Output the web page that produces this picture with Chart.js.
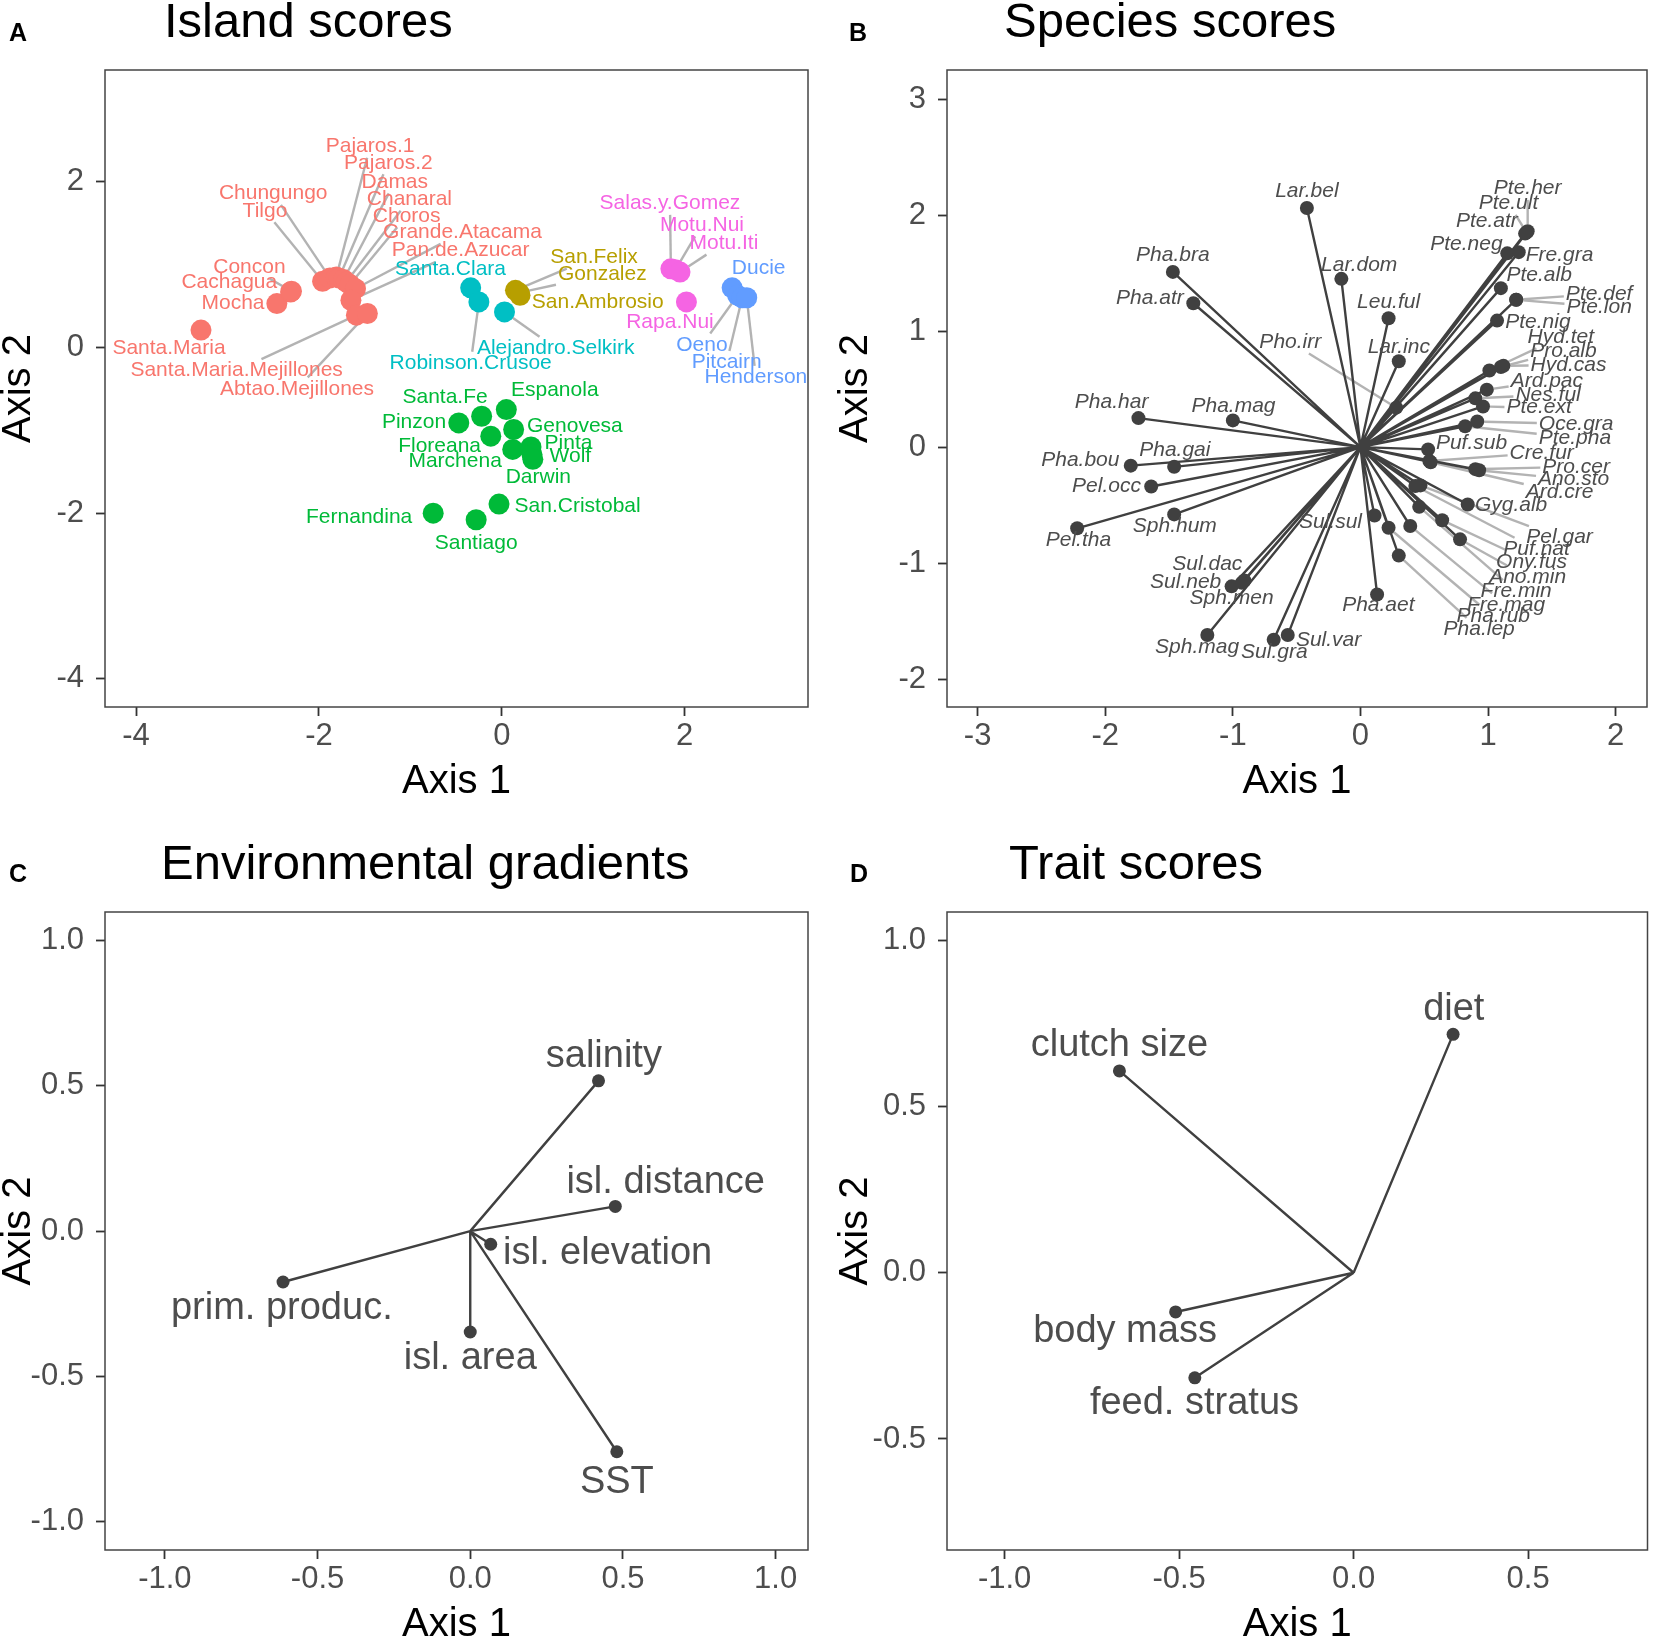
<!DOCTYPE html>
<html>
<head>
<meta charset="utf-8">
<script src="https://cdn.jsdelivr.net/npm/chart.js@4.4.0/dist/chart.umd.min.js"></script>
<style>
body { margin: 0; background: #fff; width: 1654px; height: 1640px; position: relative; overflow: hidden; font-family: "Liberation Sans", Arial, sans-serif; }
.celda { position: absolute; width: 827px; height: 820px; }
.titulo { position: absolute; font-size: 49px; line-height: 49px; color: #000; white-space: nowrap; }
.letra { position: absolute; font-size: 25px; line-height: 25px; font-weight: bold; color: #000; }
</style>
</head>
<body>
<div class="celda" style="left:0;top:0"><canvas id="graficaA" width="827" height="820"></canvas></div>
<div class="celda" style="left:827px;top:0"><canvas id="graficaB" width="827" height="820"></canvas></div>
<div class="celda" style="left:0;top:820px"><canvas id="graficaC" width="827" height="820"></canvas></div>
<div class="celda" style="left:827px;top:820px"><canvas id="graficaD" width="827" height="820"></canvas></div>

<div class="letra" style="left:9px;top:20px">A</div>
<div class="letra" style="left:849px;top:20px">B</div>
<div class="letra" style="left:9px;top:861px">C</div>
<div class="letra" style="left:850px;top:861px">D</div>
<div class="titulo" style="left:164px;top:-4px">Island scores</div>
<div class="titulo" style="left:1004px;top:-4px">Species scores</div>
<div class="titulo" style="left:161px;top:838px">Environmental gradients</div>
<div class="titulo" style="left:1009px;top:838px">Trait scores</div>

<script>
// ---- A: island scores ----
const grupos = ["Chile", "Desventuradas", "Galapagos", "Juan Fernandez", "Pitcairn", "Rapa Nui"];
const islas = ["Santa.Maria", "Mocha", "Cachagua", "Concon", "Tilgo", "Chungungo", "Pajaros.1", "Pajaros.2",
    "Damas", "Chanaral", "Choros", "Grande.Atacama", "Pan.de.Azucar", "Santa.Maria.Mejillones", "Abtao.Mejillones",
    "San.Felix", "Gonzalez", "San.Ambrosio",
    "Pinzon", "Santa.Fe", "Espanola", "Genovesa", "Floreana", "Marchena", "Pinta", "Wolf", "Darwin",
    "Fernandina", "Santiago", "San.Cristobal",
    "Santa.Clara", "Robinson.Crusoe", "Alejandro.Selkirk",
    "Ducie", "Oeno", "Pitcairn", "Henderson",
    "Salas.y.Gomez", "Motu.Nui", "Motu.Iti", "Rapa.Nui"];
const islaGrupo = [0,0,0,0,0,0,0,0,0,0,0,0,0,0,0, 1,1,1, 2,2,2,2,2,2,2,2,2,2,2,2, 3,3,3, 4,4,4,4, 5,5,5,5];
const islaEje1 = [-3.29, -2.46, -2.31, -2.30, -1.96, -1.88, -1.81, -1.78, -1.73, -1.70, -1.66, -1.60, -1.65, -1.59, -1.47,
    0.15, 0.19, 0.20,
    -0.47, -0.22, 0.05, 0.13, -0.12, 0.12, 0.32, 0.33, 0.34, -0.75, -0.28, -0.03,
    -0.34, -0.25, 0.03,
    2.52, 2.58, 2.63, 2.68,
    1.85, 1.90, 1.95, 2.02];
const islaEje2 = [0.21, 0.53, 0.67, 0.68, 0.80, 0.84, 0.85, 0.84, 0.82, 0.79, 0.76, 0.71, 0.57, 0.39, 0.41,
    0.69, 0.66, 0.63,
    -0.91, -0.83, -0.75, -0.99, -1.07, -1.23, -1.20, -1.29, -1.35, -2.00, -2.08, -1.89,
    0.72, 0.55, 0.43,
    0.72, 0.63, 0.60, 0.60,
    0.95, 0.94, 0.91, 0.55];
const islaEtiqX = [-3.64, -2.94, -2.98, -2.76, -2.59, -2.50, -1.44, -1.24, -1.17, -1.01, -1.04, -0.43, -0.45, -2.90, -2.24,
    1.01, 1.10, 1.05,
    -0.96, -0.62, 0.58, 0.80, -0.68, -0.51, 0.73, 0.75, 0.40, -1.56, -0.28, 0.83,
    -0.56, -0.34, 0.59,
    2.81, 2.19, 2.46, 2.78,
    1.84, 2.19, 2.43, 1.84];
const islaEtiqY = [-0.01, 0.54, 0.79, 0.97, 1.65, 1.86, 2.43, 2.23, 2.00, 1.79, 1.59, 1.39, 1.17, -0.28, -0.50,
    1.09, 0.88, 0.55,
    -0.90, -0.60, -0.52, -0.95, -1.19, -1.37, -1.16, -1.31, -1.56, -2.05, -2.36, -1.91,
    0.94, -0.19, -0.01,
    0.96, 0.03, -0.18, -0.36,
    1.74, 1.48, 1.26, 0.31];

// ---- B: species scores ----
const especies = ["Lar.bel", "Pha.bra", "Pha.atr", "Lar.dom", "Leu.ful", "Lar.inc", "Pho.irr", "Pha.har", "Pha.mag",
    "Pha.bou", "Pha.gai", "Pel.occ", "Pel.tha", "Sph.hum", "Sul.sul", "Sul.dac", "Sul.neb", "Sph.men", "Sph.mag",
    "Sul.gra", "Sul.var", "Pha.aet", "Pte.her", "Pte.ult", "Pte.atr", "Pte.neg", "Fre.gra", "Pte.alb", "Pte.def",
    "Pte.lon", "Pte.nig", "Hyd.tet", "Pro.alb", "Hyd.cas", "Ard.pac", "Nes.ful", "Pte.ext", "Oce.gra", "Pte.pha",
    "Puf.sub", "Cre.fur", "Pro.cer", "Ano.sto", "Ard.cre", "Gyg.alb", "Pel.gar", "Puf.nat", "Ony.fus", "Ano.min",
    "Fre.min", "Fre.mag", "Pha.rub", "Pha.lep"];
const especieEje1 = [-0.42, -1.47, -1.31, -0.15, 0.22, 0.30, 0.28, -1.74, -1.00,
    -1.80, -1.46, -1.64, -2.22, -1.46, 0.11, -0.91, -1.01, -0.93, -1.20,
    -0.68, -0.57, 0.13, 1.31, 1.30, 1.29, 1.15, 1.24, 1.10, 1.22,
    1.22, 1.07, 1.01, 1.10, 1.12, 0.99, 0.90, 0.96, 0.915, 0.82,
    0.53, 0.54, 0.90, 0.93, 0.55, 0.84, 0.47, 0.43, 0.64, 0.78,
    0.46, 0.39, 0.22, 0.30];
const especieEje2 = [2.06, 1.51, 1.24, 1.45, 1.11, 0.74, 0.34, 0.25, 0.23,
    -0.16, -0.17, -0.34, -0.70, -0.58, -0.59, -1.15, -1.20, -1.17, -1.62,
    -1.66, -1.62, -1.27, 1.86, 1.85, 1.84, 1.67, 1.68, 1.37, 1.27,
    1.27, 1.09, 0.66, 0.69, 0.70, 0.495, 0.42, 0.35, 0.22, 0.18,
    -0.02, -0.12, -0.19, -0.20, -0.13, -0.495, -0.33, -0.335, -0.63, -0.795,
    -0.515, -0.68, -0.695, -0.935];
const especieEtiqX = [-0.42, -1.47, -1.65, -0.01, 0.22, 0.30, -0.55, -1.95, -0.995,
    -2.195, -1.455, -1.99, -2.21, -1.455, -0.235, -1.20, -1.37, -1.01, -1.28,
    -0.675, -0.25, 0.14, 1.31, 1.16, 0.99, 0.83, 1.56, 1.40, 1.87,
    1.87, 1.39, 1.57, 1.59, 1.63, 1.46, 1.47, 1.40, 1.69, 1.68,
    0.87, 1.42, 1.69, 1.67, 1.56, 1.18, 1.56, 1.38, 1.34, 1.31,
    1.22, 1.14, 1.04, 0.93];
const especieEtiqY = [2.21, 1.65, 1.28, 1.57, 1.245, 0.86, 0.905, 0.385, 0.355,
    -0.11, -0.03, -0.34, -0.80, -0.68, -0.65, -1.01, -1.16, -1.30, -1.72,
    -1.765, -1.66, -1.365, 2.23, 2.10, 1.95, 1.75, 1.65, 1.48, 1.32,
    1.21, 1.08, 0.95, 0.83, 0.71, 0.57, 0.45, 0.34, 0.20, 0.08,
    0.03, -0.05, -0.17, -0.28, -0.39, -0.50, -0.78, -0.88, -0.99, -1.12,
    -1.245, -1.36, -1.46, -1.57];

// ---- C: environmental gradients ----
const gradientes = ["salinity", "isl. distance", "isl. elevation", "prim. produc.", "isl. area", "SST"];
const gradienteEje1 = [0.42, 0.475, 0.067, -0.613, 0.0, 0.48];
const gradienteEje2 = [0.517, 0.085, -0.045, -0.175, -0.347, -0.759];
const gradienteEtiqX = [0.4375, 0.64, 0.45, -0.617, 0.0, 0.48];
const gradienteEtiqY = [0.60, 0.168, -0.078, -0.266, -0.437, -0.865];

// ---- D: trait scores ----
const rasgos = ["diet", "clutch size", "body mass", "feed. stratus"];
const rasgoEje1 = [0.285, -0.671, -0.51, -0.455];
const rasgoEje2 = [0.717, 0.607, -0.118, -0.316];
const rasgoEtiqX = [0.287, -0.671, -0.655, -0.456];
const rasgoEtiqY = [0.793, 0.682, -0.178, -0.392];

const coloresGrupo = ['#F8766D', '#B79F00', '#00BA38', '#00BFC4', '#619CFF', '#F564E3'];
const FAMILIA = '"Liberation Sans", Arial, sans-serif';
const GRIS_OSCURO = '#404040';
Chart.defaults.font.family = FAMILIA;

// marco del panel
const marco = {
    id: 'marco',
    afterDraw(chart) {
        const a = chart.chartArea, ctx = chart.ctx;
        ctx.save();
        ctx.strokeStyle = '#444444';
        ctx.lineWidth = 1.5;
        ctx.strokeRect(a.left, a.top, a.right - a.left, a.bottom - a.top);
        ctx.restore();
    }
};

// etiquetas de texto con segmentos tipo ggrepel
function etiquetas(cfg) {
    return {
        id: 'etiquetas',
        beforeDatasetsDraw(chart) {
            const ctx = chart.ctx, sx = chart.scales.x, sy = chart.scales.y;
            ctx.save();
            ctx.font = cfg.fuente;
            ctx.strokeStyle = '#b3b3b3';
            ctx.lineWidth = 2.4;
            cfg.nombres.forEach((n, i) => {
                const px = sx.getPixelForValue(cfg.px[i]), py = sy.getPixelForValue(cfg.py[i]);
                const cx = sx.getPixelForValue(cfg.lx[i]), cy = sy.getPixelForValue(cfg.ly[i]);
                const hw = ctx.measureText(n).width / 2 + 2, hh = cfg.alto / 2 + 1;
                const dx = px - cx, dy = py - cy;
                const t = Math.min(dx ? hw / Math.abs(dx) : Infinity, dy ? hh / Math.abs(dy) : Infinity);
                if (t >= 1) return;
                const ex = cx + t * dx, ey = cy + t * dy;
                const d = Math.hypot(px - ex, py - ey);
                if (d - cfg.radio < cfg.minimo) return;
                const k = cfg.radio / d;
                ctx.beginPath();
                ctx.moveTo(px + (ex - px) * k, py + (ey - py) * k);
                ctx.lineTo(ex, ey);
                ctx.stroke();
            });
            ctx.restore();
        },
        afterDatasetsDraw(chart) {
            const ctx = chart.ctx, sx = chart.scales.x, sy = chart.scales.y;
            ctx.save();
            ctx.font = cfg.fuente;
            ctx.textAlign = 'center';
            ctx.textBaseline = 'middle';
            cfg.nombres.forEach((n, i) => {
                ctx.fillStyle = cfg.colores ? cfg.colores[i] : '#4d4d4d';
                ctx.fillText(n, sx.getPixelForValue(cfg.lx[i]), sy.getPixelForValue(cfg.ly[i]));
            });
            ctx.restore();
        }
    };
}

function opciones(c) {
    const fuenteTicks = {size: 31, family: FAMILIA};
    const rejilla = {display: true, drawOnChartArea: false, drawTicks: true, tickLength: 9, tickColor: '#333333', tickWidth: 1.8};
    return {
        responsive: false,
        animation: false,
        devicePixelRatio: 1,
        events: [],
        layout: {padding: {left: 0, top: c.arriba, right: 827 - c.derecha, bottom: 0}},
        plugins: {legend: {display: false}, tooltip: {enabled: false}},
        scales: {
            x: {
                type: 'linear', position: 'bottom', min: c.xMin, max: c.xMax,
                afterFit(s) { s.height = 820 - c.abajo; s.paddingLeft = 0; s.paddingRight = 0; },
                border: {display: false},
                grid: rejilla,
                ticks: {stepSize: c.paso, includeBounds: false, autoSkip: false, maxRotation: 0, padding: 2,
                    color: '#4d4d4d', font: fuenteTicks, callback: v => v.toFixed(c.decimales)},
                title: {display: true, text: 'Axis 1', color: '#000', font: {size: 40, lineHeight: 1, family: FAMILIA},
                    padding: {top: 0, bottom: c.padX}}
            },
            y: {
                type: 'linear', position: 'left', min: c.yMin, max: c.yMax,
                afterFit(s) { s.width = c.izquierda; s.paddingTop = 0; s.paddingBottom = 0; },
                border: {display: false},
                grid: rejilla,
                ticks: {stepSize: c.paso, includeBounds: false, autoSkip: false, padding: 12,
                    color: '#4d4d4d', font: fuenteTicks, callback: v => v.toFixed(c.decimales)},
                title: {display: true, text: 'Axis 2', color: '#000', font: {size: 40, lineHeight: 1, family: FAMILIA},
                    padding: {top: c.padY, bottom: 0}}
            }
        }
    };
}

function flechas(e1, e2) {
    const datos = [];
    e1.forEach((v, i) => {
        datos.push({x: 0, y: 0}, {x: v, y: e2[i]}, {x: null, y: null});
    });
    return datos;
}

function puntos(e1, e2) {
    return e1.map((v, i) => ({x: v, y: e2[i]}));
}

// Panel A
new Chart(document.getElementById('graficaA'), {
    type: 'scatter',
    data: {
        datasets: grupos.map((g, k) => ({
            label: g,
            data: islaEje1.map((v, i) => ({x: v, y: islaEje2[i], g: islaGrupo[i]})).filter(p => p.g === k),
            backgroundColor: coloresGrupo[k],
            borderWidth: 0,
            pointRadius: 10.5
        }))
    },
    options: opciones({xMin: -4.34, xMax: 3.35, yMin: -4.34, yMax: 3.35, paso: 2, decimales: 0,
        arriba: 70, derecha: 808, abajo: 707, izquierda: 105, padX: 18, padY: -1}),
    plugins: [marco, etiquetas({nombres: islas, px: islaEje1, py: islaEje2, lx: islaEtiqX, ly: islaEtiqY,
        colores: islaGrupo.map(g => coloresGrupo[g]), fuente: '21px ' + FAMILIA, alto: 21, radio: 10, minimo: 12})]
});

// Panel B
new Chart(document.getElementById('graficaB'), {
    type: 'scatter',
    data: {
        datasets: [
            {label: 'species', data: puntos(especieEje1, especieEje2), backgroundColor: GRIS_OSCURO, borderWidth: 0, pointRadius: 7, order: 0},
            {label: 'arrows', data: flechas(especieEje1, especieEje2), showLine: true, spanGaps: false,
                borderColor: GRIS_OSCURO, borderWidth: 2.4, pointRadius: 0, order: 1}
        ]
    },
    options: opciones({xMin: -3.24, xMax: 2.245, yMin: -2.24, yMax: 3.25, paso: 1, decimales: 0,
        arriba: 70, derecha: 824, abajo: 707, izquierda: 120, padX: 18, padY: 9}),
    plugins: [marco, etiquetas({nombres: especies, px: especieEje1, py: especieEje2, lx: especieEtiqX, ly: especieEtiqY,
        fuente: 'italic 21px ' + FAMILIA, alto: 21, radio: 7, minimo: 12})]
});

// Panel C
new Chart(document.getElementById('graficaC'), {
    type: 'scatter',
    data: {
        datasets: [
            {label: 'gradients', data: puntos(gradienteEje1, gradienteEje2), backgroundColor: GRIS_OSCURO, borderWidth: 0, pointRadius: 6.5, order: 0},
            {label: 'arrows', data: flechas(gradienteEje1, gradienteEje2), showLine: true, spanGaps: false,
                borderColor: GRIS_OSCURO, borderWidth: 2.4, pointRadius: 0, order: 1}
        ]
    },
    options: opciones({xMin: -1.196, xMax: 1.106, yMin: -1.097, yMax: 1.098, paso: 0.5, decimales: 1,
        arriba: 92, derecha: 808, abajo: 730, izquierda: 105, padX: -5, padY: -1}),
    plugins: [marco, etiquetas({nombres: gradientes, px: gradienteEje1, py: gradienteEje2, lx: gradienteEtiqX, ly: gradienteEtiqY,
        fuente: '38px ' + FAMILIA, alto: 38, radio: 6, minimo: Infinity})]
});

// Panel D
new Chart(document.getElementById('graficaD'), {
    type: 'scatter',
    data: {
        datasets: [
            {label: 'traits', data: puntos(rasgoEje1, rasgoEje2), backgroundColor: GRIS_OSCURO, borderWidth: 0, pointRadius: 6.5, order: 0},
            {label: 'arrows', data: flechas(rasgoEje1, rasgoEje2), showLine: true, spanGaps: false,
                borderColor: GRIS_OSCURO, borderWidth: 2.4, pointRadius: 0, order: 1}
        ]
    },
    options: opciones({xMin: -1.165, xMax: 0.842, yMin: -0.834, yMax: 1.085, paso: 0.5, decimales: 1,
        arriba: 92, derecha: 824, abajo: 730, izquierda: 120, padX: -5, padY: 9}),
    plugins: [marco, etiquetas({nombres: rasgos, px: rasgoEje1, py: rasgoEje2, lx: rasgoEtiqX, ly: rasgoEtiqY,
        fuente: '38px ' + FAMILIA, alto: 38, radio: 6, minimo: Infinity})]
});
</script>
</body>
</html>
